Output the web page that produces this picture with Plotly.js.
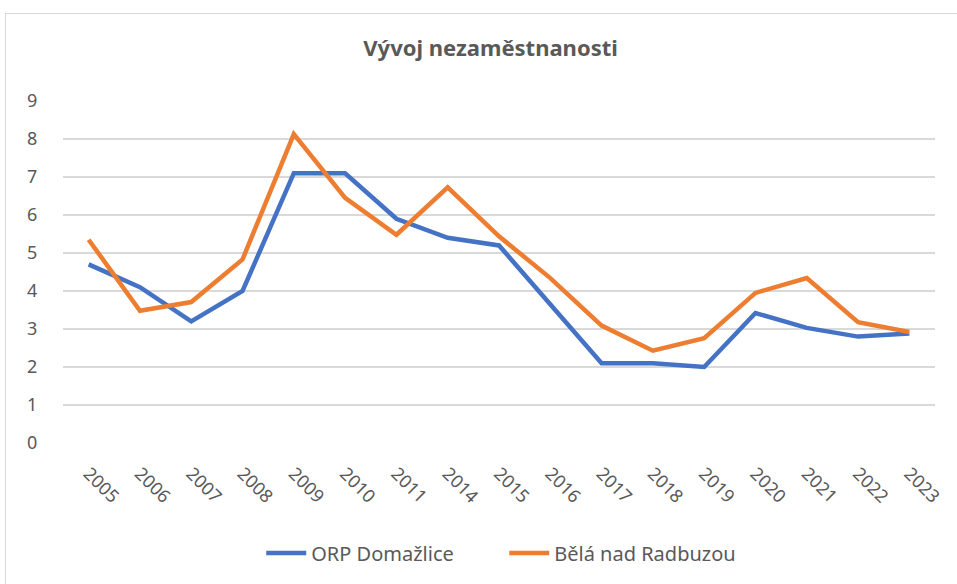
<!DOCTYPE html>
<html>
<head>
<meta charset="utf-8">
<script src="https://cdn.plot.ly/plotly-3.0.1.min.js"></script>
<style>
html,body{margin:0;padding:0;background:#fff;overflow:hidden;width:957px;height:584px;}
#frame{position:absolute;left:5px;top:13px;width:960px;height:600px;border:1px solid #d9d9d9;box-sizing:border-box;}
#chart{position:absolute;left:0;top:0;width:952px;height:571px;}
</style>
</head>
<body>
<div id="frame"><div id="chart"></div></div>
<script>
const years = ["2005","2006","2007","2008","2009","2010","2011","2014","2015","2016","2017","2018","2019","2020","2021","2022","2023"];
const domazlice = [4.7,4.1,3.2,4.0,7.1,7.1,5.9,5.4,5.2,3.65,2.1,2.1,2.0,3.42,3.03,2.8,2.88];
const bela = [5.35,3.48,3.71,4.83,8.13,6.45,5.48,6.73,5.44,4.34,3.09,2.43,2.76,3.95,4.34,3.18,2.92];
const yTicks = [0,1,2,3,4,5,6,7,8,9];

const font = '"Noto Sans", "Open Sans", Arial, sans-serif';
const traces = [
  {x: years, y: domazlice, type: 'scatter', mode: 'lines', name: 'ORP Domažlice',
   line: {color: '#4472C4', width: 4.5, shape: 'linear'}},
  {x: years, y: bela, type: 'scatter', mode: 'lines', name: 'Bělá nad Radbuzou',
   line: {color: '#ED7D31', width: 4.5, shape: 'linear'}}
];
const layout = {
  width: 952, height: 571,
  margin: {l: 57, r: 23, t: 87, b: 142},
  paper_bgcolor: '#fff', plot_bgcolor: '#fff',
  font: {family: font, color: '#595959', size: 18},
  title: {text: '<b>Vývoj nezaměstnanosti</b>', x: 0.509, xanchor: 'center', y: 0.94, yanchor: 'middle',
          font: {family: font, size: 22, color: '#595959'}},
  xaxis: {type: 'category', categoryorder: 'array', categoryarray: years, tickangle: 45,
          range: [-0.5, years.length - 0.5],
          showgrid: false, zeroline: false, showline: false,
          ticks: 'outside', ticklen: 12, tickcolor: 'rgba(0,0,0,0)',
          tickfont: {family: font, size: 18, color: '#595959'}, fixedrange: true},
  yaxis: {range: [0, 9], tickvals: yTicks, ticktext: yTicks.map(String),
          showgrid: true, gridcolor: '#d9d9d9', gridwidth: 1.3, zeroline: false, showline: false,
          ticks: 'outside', ticklen: 21, tickcolor: 'rgba(0,0,0,0)',
          tickfont: {family: font, size: 18, color: '#595959'}, fixedrange: true},
  legend: {orientation: 'h', x: 0.506, xanchor: 'center', y: -0.322, yanchor: 'middle',
           font: {family: font, size: 20, color: '#595959'}, itemwidth: 40, tracegroupgap: 0,
           entrywidth: 188, entrywidthmode: 'pixels'},
  showlegend: true
};
Plotly.newPlot('chart', traces, layout, {displayModeBar: false, staticPlot: true});
</script>
</body>
</html>
